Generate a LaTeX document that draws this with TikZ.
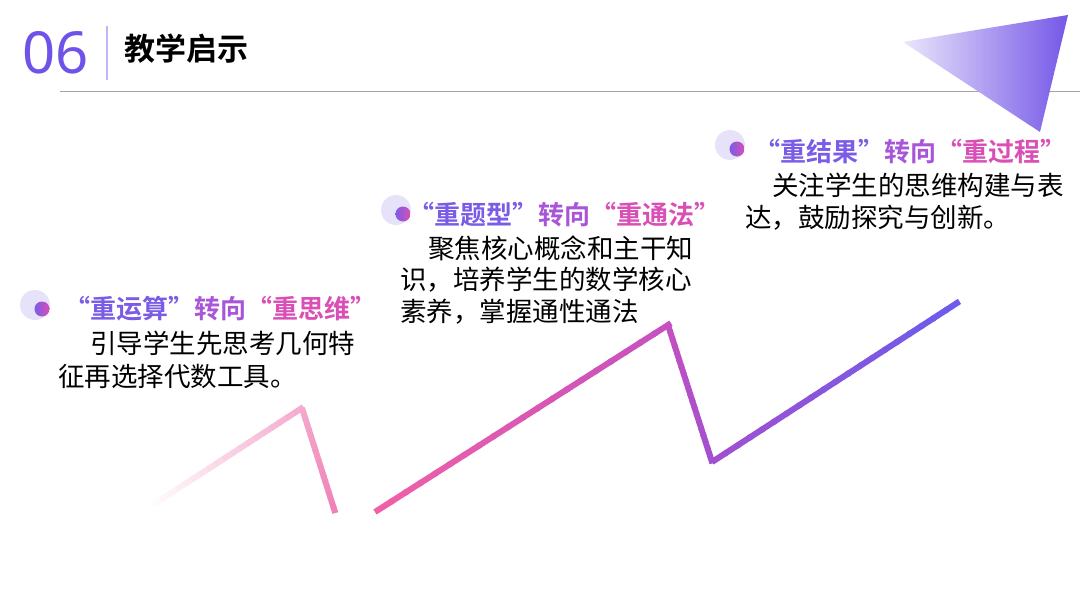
\documentclass[tikz,border=0pt]{standalone}
\usepackage{fontspec}
\setmainfont{Noto Sans CJK SC}
\newfontfamily\bfcjk{Noto Sans CJK SC Bold}
\newfontfamily\numfont{Noto Sans}
\usetikzlibrary{calc}
\definecolor{cP}{HTML}{7B5CE6}
\definecolor{cM}{HTML}{A855D8}
\definecolor{cK}{HTML}{D94FB5}
\definecolor{halo}{HTML}{E6E2FA}
\tikzset{
  body/.style={anchor=west,inner sep=0pt,font=\fontsize{26.5}{26.5}\selectfont},
  head/.style={anchor=west,inner sep=0pt,font=\bfcjk\fontsize{26}{26}\selectfont},
}
\newcommand{\gseg}[4]{%
  \foreach \i in {0,...,19}{%
    \pgfmathsetmacro{\p}{100-\i*5}%
    \pgfmathsetmacro{\ta}{\i/20}\pgfmathsetmacro{\tb}{(\i+1)/20+0.01}%
    \colorlet{segc}{#3!\p!#4}%
    \draw[segc,line width=6pt] ($(#1)!\ta!(#2)$) -- ($(#1)!\tb!(#2)$);}}
\newcommand{\mybul}[2]{%
  \fill[halo] (#1,#2) circle (15pt);
  \shade[left color=cP,right color=cK] (#1+7,#2+4) circle (7.5pt);}
\begin{document}
\begin{tikzpicture}[x=1pt,y=-1pt]
\useasboundingbox (0,0) rectangle (1080,608);
% header
\node[anchor=west,inner sep=0pt,text=cP!90!blue,font=\numfont\fontsize{58}{58}\selectfont] (num) at (22,53) {06};
\draw[cP!45,line width=1.2pt] (107,26) -- (107,80);
\node[anchor=west,inner sep=0pt,font=\bfcjk\fontsize{31}{31}\selectfont] (ttl) at (124,49) {教学启示};
\draw[gray!70,line width=1pt] (60,91) -- (1080,91);
% triangle
\shade[left color=cP!15,right color=cP!95!blue] (903,42) -- (1068,15) -- (1040,132) -- cycle;
% zigzag
\coordinate (a) at (145,510); \coordinate (b) at (302,408); \coordinate (c) at (335,512);
\coordinate (d) at (375,512); \coordinate (e) at (668,325); \coordinate (f) at (712,462); \coordinate (g) at (957,303);
\definecolor{z0}{HTML}{FFFFFF}\definecolor{z1}{HTML}{F4A8CC}\definecolor{z2}{HTML}{F080B8}
\definecolor{z3}{HTML}{F060A8}\definecolor{z4}{HTML}{C450C0}\definecolor{z5}{HTML}{A050D0}\definecolor{z6}{HTML}{6A5CF0}
\gseg{a}{b}{z0}{z1}
\gseg{b}{c}{z1}{z2}
\gseg{d}{e}{z3}{z4}
\gseg{e}{f}{z4}{z5}
\gseg{f}{g}{z5}{z6}
% bullets
\mybul{35}{305}
\mybul{396}{210}
\mybul{730}{145}
% block 1
\node[head] (h1) at (64,309) {\textcolor{cP}{“重运算”}\textcolor{cM}{转向}\textcolor{cK}{“重思维”}};
\node[body] (b1a) at (90,343) {引导学生先思考几何特};
\node[body] (b1b) at (58,376) {征再选择代数工具。};
% block 2
\node[head] (h2) at (408,215) {\textcolor{cP}{“重题型”}\textcolor{cM}{转向}\textcolor{cK}{“重通法”}};
\node[body] (b2a) at (428,248) {聚焦核心概念和主干知};
\node[body] (b2b) at (400,280) {识，培养学生的数学核心};
\node[body] (b2c) at (400,312) {素养，掌握通性通法};
% block 3
\node[head] (h3) at (754,152) {\textcolor{cP}{“重结果”}\textcolor{cM}{转向}\textcolor{cK}{“重过程”}};
\node[body] (b3a) at (772,185) {关注学生的思维构建与表};
\node[body] (b3b) at (745,218) {达，鼓励探究与创新。};
\end{tikzpicture}
\end{document}
